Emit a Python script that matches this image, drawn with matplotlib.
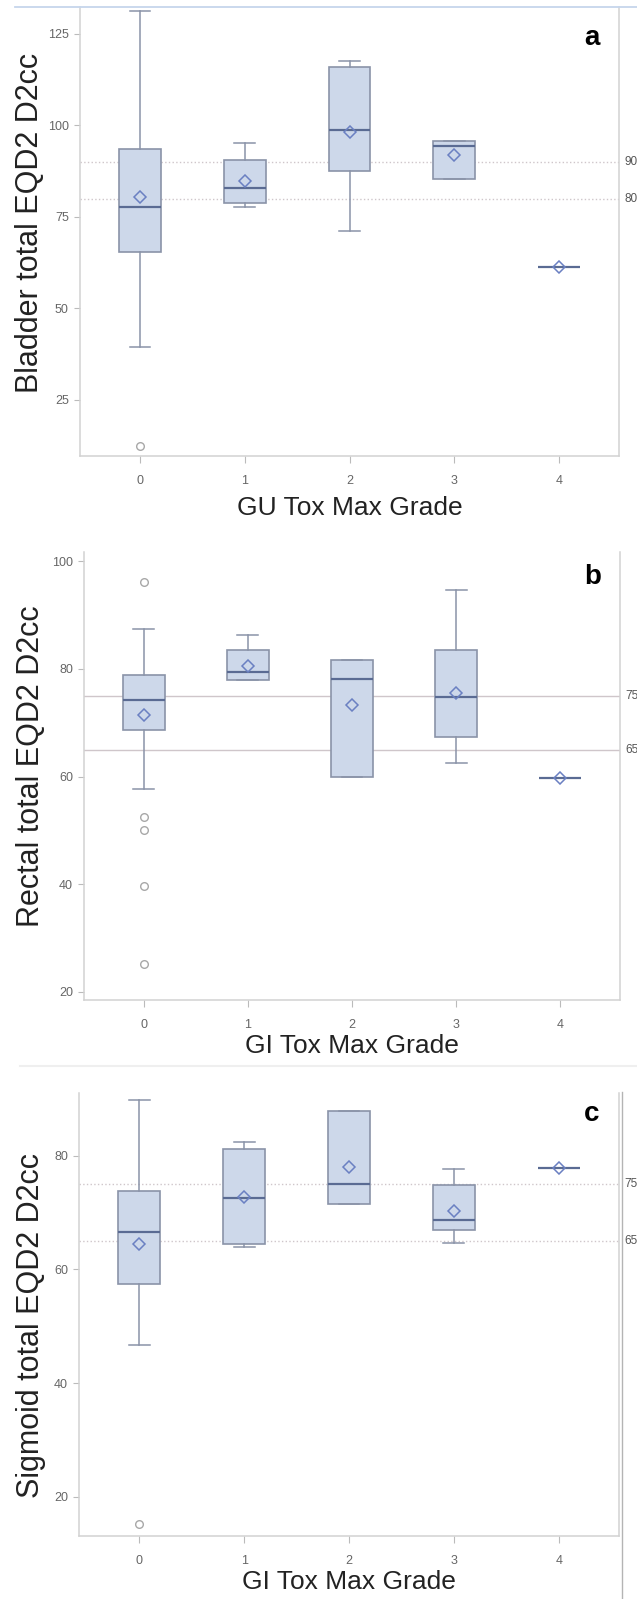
import matplotlib
matplotlib.use('Agg')
import matplotlib.pyplot as plt
from matplotlib.lines import Line2D

grades = [0, 1, 2, 3, 4]

# panel a: bladder
a_whislo = [39.4, 77.8, 71.2, 85.4, 61.3]
a_q1 = [65.3, 78.8, 87.5, 85.4, 61.3]
a_med = [77.8, 82.8, 98.6, 94.3, 61.3]
a_q3 = [93.4, 90.4, 115.8, 95.8, 61.3]
a_whishi = [131.1, 95.1, 117.6, 95.8, 61.3]
a_mean = [80.5, 84.7, 98.3, 91.8, 61.3]
a_fliers = [[12.3], [], [], [], []]
a_refs = [90, 80]
a_ticks = [25, 50, 75, 100, 125]

# panel b: rectal
b_whislo = [57.7, 78.0, 60.0, 62.5, 59.8]
b_q1 = [68.7, 78.0, 60.0, 67.3, 59.8]
b_med = [74.3, 79.4, 78.2, 74.8, 59.8]
b_q3 = [78.9, 83.5, 81.7, 83.5, 59.8]
b_whishi = [87.4, 86.3, 81.7, 94.6, 59.8]
b_mean = [71.5, 80.6, 73.2, 75.6, 59.8]
b_fliers = [[96.2, 52.5, 50.0, 39.6, 25.1], [], [], [], []]
b_refs = [75, 65]
b_ticks = [20, 40, 60, 80, 100]

# panel c: sigmoid
c_whislo = [46.7, 64.0, 71.5, 64.6, 77.8]
c_q1 = [57.4, 64.4, 71.5, 66.9, 77.8]
c_med = [66.6, 72.5, 75.0, 68.6, 77.8]
c_q3 = [73.8, 81.2, 87.8, 74.8, 77.8]
c_whishi = [89.7, 82.3, 87.8, 77.7, 77.8]
c_mean = [64.4, 72.7, 77.9, 70.3, 77.8]
c_fliers = [[15.2], [], [], [], []]
c_refs = [75, 65]
c_ticks = [20, 40, 60, 80]

SANS = ['Liberation Sans', 'DejaVu Sans']
W, H = 637, 1599


def make_stats(whislo, q1, med, q3, whishi, mean, fliers):
    return [
        dict(whislo=lo, q1=a, med=m, q3=b, whishi=hi, mean=mu, fliers=fl)
        for lo, a, m, b, hi, mu, fl in zip(whislo, q1, med, q3, whishi, mean, fliers)
    ]


def panel(fig, box, stats, refs, ticks, ylim, ylabel, xlabel, letter,
          ylab_x, ylab_y, xlab_y, letter_y, refstyle):
    left, top, right, bottom = box
    ax = fig.add_axes([left / W, 1 - bottom / H, (right - left) / W, (bottom - top) / H])
    ax.bxp(stats, positions=grades, widths=0.4, showmeans=True, patch_artist=True,
           boxprops=dict(facecolor='#cdd8ea', edgecolor='#8a93a8', linewidth=1.2),
           medianprops=dict(color='#5a6b93', linewidth=1.6),
           whiskerprops=dict(color='#8a93a8', linewidth=1.1),
           capprops=dict(color='#8a93a8', linewidth=1.1),
           meanprops=dict(marker='D', markerfacecolor='none', markeredgecolor='#6a80c2',
                          markersize=6, markeredgewidth=1.1),
           flierprops=dict(marker='o', markerfacecolor='none', markeredgecolor='#a8a8a8',
                           markersize=5.5, markeredgewidth=1.0))
    for r in refs:
        ax.axhline(r, color='#cfc6ca', linewidth=1.0, linestyle=refstyle, zorder=0)
        ax.text(1.01, r, str(r), transform=ax.get_yaxis_transform(), va='center', ha='left',
                fontsize=8.5, color='#555555', family=SANS, clip_on=False)
    ax.set_xlim(-0.573, 4.573)
    ax.set_ylim(*ylim)
    ax.set_xticks(grades)
    ax.set_xticklabels([str(g) for g in grades])
    ax.set_yticks(ticks)
    ax.tick_params(axis='y', length=4, width=0.8, color='#bbbbbb', pad=4,
                   labelsize=9, labelcolor='#666666')
    ax.tick_params(axis='x', length=5, width=0.8, color='#bbbbbb', pad=9,
                   labelsize=9, labelcolor='#666666')
    for lab in ax.get_xticklabels() + ax.get_yticklabels():
        lab.set_family(SANS)
    for side in ['left', 'bottom', 'right']:
        ax.spines[side].set_color('#d2d2d2')
        ax.spines[side].set_linewidth(1.1)
    ax.spines['top'].set_visible(False)
    ax.set_ylabel(ylabel, fontsize=22, family=SANS, color='#222222', va='center')
    ax.yaxis.set_label_coords(ylab_x, ylab_y)
    ax.set_xlabel(xlabel, fontsize=19, family=SANS, color='#222222', va='center')
    ax.xaxis.set_label_coords(0.5, xlab_y)
    ax.text(0.949, letter_y, letter, transform=ax.transAxes, fontsize=20,
            fontweight='bold', family=SANS, ha='center', va='center')
    return ax


fig = plt.figure(figsize=(W / 100, H / 100), dpi=100)
fig.patch.set_facecolor('white')

sa = make_stats(a_whislo, a_q1, a_med, a_q3, a_whishi, a_mean, a_fliers)
sb = make_stats(b_whislo, b_q1, b_med, b_q3, b_whishi, b_mean, b_fliers)
sc = make_stats(c_whislo, c_q1, c_med, c_q3, c_whishi, c_mean, c_fliers)

panel(fig, (80, 7, 619, 456), sa, a_refs, a_ticks, (9.7, 132.3),
      'Bladder total EQD2 D2cc', 'GU Tox Max Grade', 'a',
      -0.093, 0.519, -0.116, 0.93, ':')
panel(fig, (84, 552, 620, 1000), sb, b_refs, b_ticks, (18.5, 101.7),
      'Rectal total EQD2 D2cc', 'GI Tox Max Grade', 'b',
      -0.099, 0.522, -0.102, 0.944, '-')
panel(fig, (79, 1093, 619, 1536), sc, c_refs, c_ticks, (13.1, 91.0),
      'Sigmoid total EQD2 D2cc', 'GI Tox Max Grade', 'c',
      -0.089, 0.476, -0.104, 0.953, ':')

# frame lines from the original page layout
fig.add_artist(Line2D([15 / W, 1], [1 - 7 / H, 1 - 7 / H], color='#c6d6ec', linewidth=1.3))
fig.add_artist(Line2D([20 / W, 1], [1 - 1066 / H, 1 - 1066 / H], color='#efefef', linewidth=1.5))
fig.add_artist(Line2D([622 / W, 622 / W], [0, 1 - 1092 / H], color='#b4b4b4', linewidth=1.0))

fig.savefig('out.png', dpi=100, facecolor='white')
